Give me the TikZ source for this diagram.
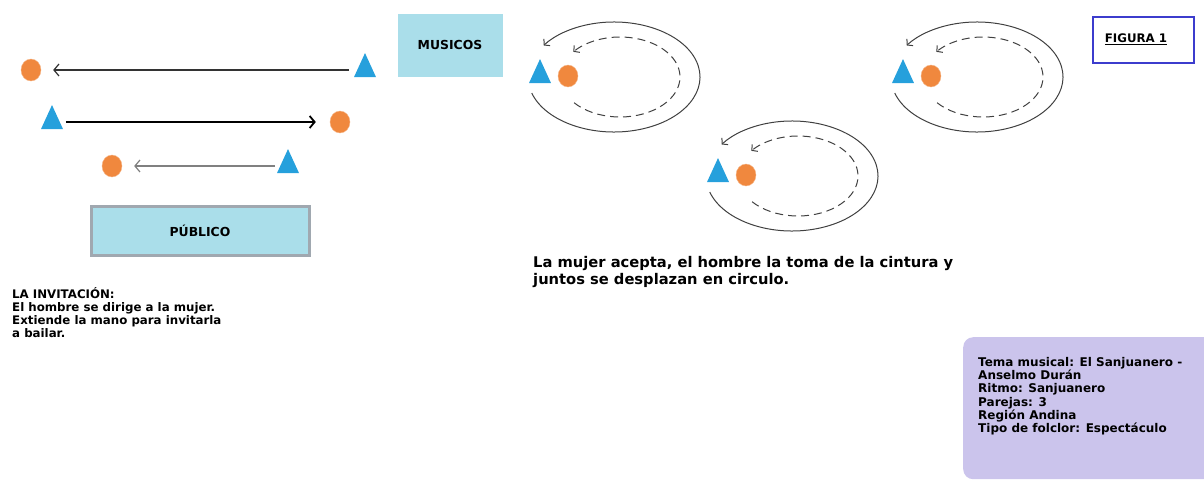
\documentclass[tikz,border=0pt]{standalone}
\usepackage{fontspec}
\setmainfont{DejaVu Sans}
\usepackage{tikz}
\usetikzlibrary{calc, positioning, shapes.geometric, arrows.meta}
\definecolor{triblue}{RGB}{38,160,220}
\definecolor{dotorange}{RGB}{240,136,62}
\definecolor{boxblue}{RGB}{170,222,234}
\definecolor{boxgray}{RGB}{160,168,176}
\definecolor{lilac}{RGB}{203,196,236}
\definecolor{figblue}{RGB}{60,60,205}
\tikzstyle{man}=[fill=triblue, isosceles triangle, shape border rotate=90, isosceles triangle stretches, minimum width=22pt, minimum height=24pt, inner sep=0pt]
\tikzstyle{woman}=[fill=dotorange, draw=dotorange!60, ellipse, minimum width=20pt, minimum height=22pt, inner sep=0pt]
\tikzstyle{txt}=[font=\bfseries\fontsize{11.8}{13.2}\selectfont, align=left, inner sep=0pt]
\tikzstyle{boxlbl}=[font=\bfseries\fontsize{12.4}{14}\selectfont, inner sep=0pt]
\tikzset{>={Straight Barb[length=5pt,width=12pt]}}

\begin{document}
\begin{tikzpicture}[x=1pt, y=-1pt]
\useasboundingbox (0,0) rectangle (1204,479);
% la invitacion
\node[woman] (w1) at (31,70) {};
\node[man] (m1) at (365,70) {};
\node[man] (m2) at (52,122) {};
\node[woman] (w2) at (340,122) {};
\node[woman] (w3) at (112,166) {};
\node[man] (m3) at (288,166) {};
\draw[->, gray!40!black, line width=1.2pt, shorten <=8pt, shorten >=12pt] (m1) -- (w1);
\draw[->, black, line width=1.8pt, shorten <=6pt, shorten >=14pt] (m2) -- (w2);
\draw[->, gray, line width=1.2pt, shorten <=5pt, shorten >=12pt] (m3) -- (w3);

\node[boxlbl, draw=boxgray, line width=3pt, fill=boxblue, minimum width=218pt, minimum height=49pt] (pub) at (200,231) {PÚBLICO};
\node[boxlbl, fill=boxblue, minimum width=105pt, minimum height=63pt] (mus) at (450,45) {MUSICOS};

\node[txt, anchor=north west] (inv) at (12,287) {LA INVITACIÓN:\\El hombre se dirige a la mujer.\\Extiende la mano para invitarla\\a bailar.};

% en circulo
\foreach \dx/\dy/\k in {0/0/1, 178/99/2, 363/0/3}{
\begin{scope}[shift={(\dx,\dy)}]
\node[man] (p\k) at (540,76) {};
\node[woman] (q\k) at (568,76) {};
\coordinate (o\k) at (614,77);
\coordinate (d\k) at (620,77);
\draw[->, gray!50!black, line width=1pt, >={Straight Barb[length=4pt,width=9pt]}] (o\k) ++(163:86 and 55) arc[start angle=163, end angle=-145, x radius=86, y radius=55];
\draw[->, gray!50!black, line width=1pt, dash pattern=on 8pt off 5pt, >={Straight Barb[length=4pt,width=9pt]}] (d\k) ++(140:60 and 40) arc[start angle=140, end angle=-141, x radius=60, y radius=40];
\end{scope}
}

\node[font=\bfseries\fontsize{14.7}{17}\selectfont, align=left, anchor=north west, inner sep=0pt] (desc) at (533,256) {La mujer acepta, el hombre la toma de la cintura y\\juntos se desplazan en circulo.};

\node[draw=figblue, line width=2pt, fill=white, minimum width=101pt, minimum height=46pt] (fig) at (1143,40) {};
\node[boxlbl, font=\bfseries\fontsize{11.8}{13}\selectfont] (figlbl) at (1136,39) {\underline{FIGURA 1}};

\node[fill=lilac, rounded corners=10pt, anchor=north west, minimum width=260pt, minimum height=142pt] (info) at (963,337) {};
\node[txt, font=\bfseries\fontsize{12}{13.3}\selectfont, anchor=north west] (infotxt) at (978,357) {Tema musical: El Sanjuanero -\\Anselmo Durán\\Ritmo: Sanjuanero\\Parejas: 3\\Región Andina\\Tipo de folclor: Espectáculo};
\end{tikzpicture}
\end{document}
